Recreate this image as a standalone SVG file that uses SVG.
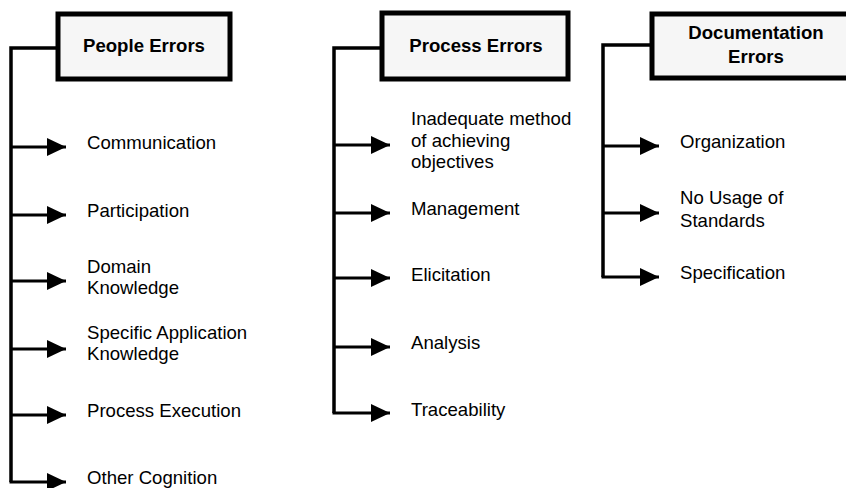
<svg xmlns="http://www.w3.org/2000/svg" width="846" height="488" viewBox="0 0 846 488">
  <style>
    .hdr { fill: #f6f6f6; stroke: #000; stroke-width: 5; }
    .hdr-t { font-family: "Liberation Sans", Arial, sans-serif; font-size: 18.6px; font-weight: bold; fill: #000; text-anchor: middle; }
    .item { font-family: "Liberation Sans", Arial, sans-serif; font-size: 18.6px; fill: #000; }
    .wire { fill: none; stroke: #000; stroke-width: 3.5; }
    .arrow { fill: none; stroke: #000; stroke-width: 3; marker-end: url(#head); }
  </style>
  <defs>
    <marker id="head" markerUnits="userSpaceOnUse" markerWidth="20" markerHeight="20" refX="19" refY="9" orient="auto">
      <path d="M0,0 L19,9 L0,18 z" fill="#000"/>
    </marker>
  </defs>

  <rect width="846" height="488" fill="#fff"/>

  <!-- connectors: trunk lines and branch arrows -->
  <g id="connectors">
    <path class="wire" d="M58,48 H11 V482"/>
    <path class="arrow" d="M11,147 H66"/>
    <path class="arrow" d="M11,215 H66"/>
    <path class="arrow" d="M11,281 H66"/>
    <path class="arrow" d="M11,349 H66"/>
    <path class="arrow" d="M11,415 H66"/>
    <path class="arrow" d="M9.5,482 H66"/>

    <path class="wire" d="M382,48 H334 V413"/>
    <path class="arrow" d="M334,145 H390"/>
    <path class="arrow" d="M334,213 H390"/>
    <path class="arrow" d="M334,278 H390"/>
    <path class="arrow" d="M334,347 H390"/>
    <path class="arrow" d="M332.5,413 H390"/>

    <path class="wire" d="M652,45 H603 V277"/>
    <path class="arrow" d="M603,146 H659"/>
    <path class="arrow" d="M603,213 H659"/>
    <path class="arrow" d="M601.5,277 H659"/>
  </g>

  <!-- category headers -->
  <g id="people-errors">
    <rect class="hdr" x="58" y="14" width="172" height="65"/>
    <text class="hdr-t" x="144" y="52">People Errors</text>
  </g>
  <g id="process-errors">
    <rect class="hdr" x="382" y="13" width="186" height="66"/>
    <text class="hdr-t" x="476" y="52">Process Errors</text>
  </g>
  <g id="documentation-errors">
    <rect class="hdr" x="652" y="14" width="204" height="64"/>
    <text class="hdr-t" x="756" y="39">Documentation</text>
    <text class="hdr-t" x="756" y="63">Errors</text>
  </g>

  <!-- people error items -->
  <g id="communication"><text class="item" x="87" y="149">Communication</text></g>
  <g id="participation"><text class="item" x="87" y="217">Participation</text></g>
  <g id="domain-knowledge">
    <text class="item" x="87" y="273">Domain</text>
    <text class="item" x="87" y="294">Knowledge</text>
  </g>
  <g id="specific-application-knowledge">
    <text class="item" x="87" y="339">Specific Application</text>
    <text class="item" x="87" y="360">Knowledge</text>
  </g>
  <g id="process-execution"><text class="item" x="87" y="417">Process Execution</text></g>
  <g id="other-cognition"><text class="item" x="87" y="484">Other Cognition</text></g>

  <!-- process error items -->
  <g id="inadequate-method">
    <text class="item" x="411" y="125">Inadequate method</text>
    <text class="item" x="411" y="147">of achieving</text>
    <text class="item" x="411" y="168">objectives</text>
  </g>
  <g id="management"><text class="item" x="411" y="215">Management</text></g>
  <g id="elicitation"><text class="item" x="411" y="281">Elicitation</text></g>
  <g id="analysis"><text class="item" x="411" y="349">Analysis</text></g>
  <g id="traceability"><text class="item" x="411" y="416">Traceability</text></g>

  <!-- documentation error items -->
  <g id="organization"><text class="item" x="680" y="148">Organization</text></g>
  <g id="no-usage-of-standards">
    <text class="item" x="680" y="204">No Usage of</text>
    <text class="item" x="680" y="227">Standards</text>
  </g>
  <g id="specification"><text class="item" x="680" y="279">Specification</text></g>
</svg>
